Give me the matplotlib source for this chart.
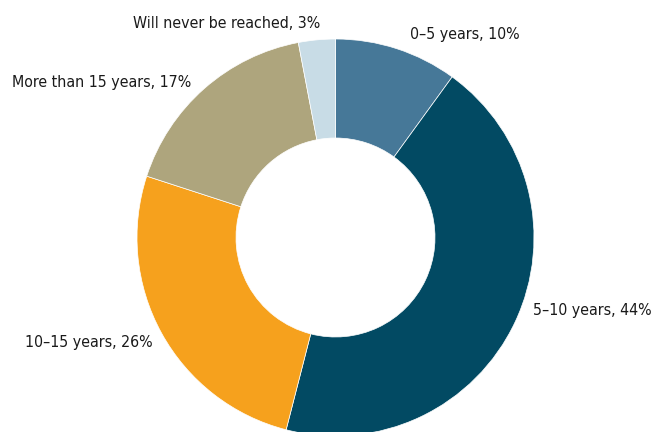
import matplotlib.pyplot as plt

# data
categories = ["0\u20135 years", "5\u201310 years", "10\u201315 years",
              "More than 15 years", "Will never be reached"]
shares = [10, 44, 26, 17, 3]
colours = ["#467898", "#024a63", "#f6a11d", "#aea57d", "#c8dce6"]

# label anchors (pixel coords, left edge / centre y)
label_pos = [(410, 34), (533, 311), (25, 342), (12, 83), (133, 24)]

W, H = 653, 432
fig = plt.figure(figsize=(W / 100, H / 100), dpi=100)
ax = fig.add_axes([0, 0, 1, 1])

# y axis runs downward, so start at -90 and go counterclockwise in data
ax.pie(shares, colors=colours, startangle=-90, counterclock=True,
       center=(335.5, 237.5), radius=198.5,
       wedgeprops=dict(width=99, edgecolor="white", linewidth=0.5))

ax.set_xlim(0, W)
ax.set_ylim(H, 0)
ax.set_aspect("auto")
ax.axis("off")

for cat, v, (x, y) in zip(categories, shares, label_pos):
    ax.text(x, y, f"{cat}, {v}%", ha="left", va="center",
            fontsize=11.4, family="DejaVu Sans", stretch="condensed",
            color="#1a1a1a")

fig.savefig("out.png", dpi=100)
